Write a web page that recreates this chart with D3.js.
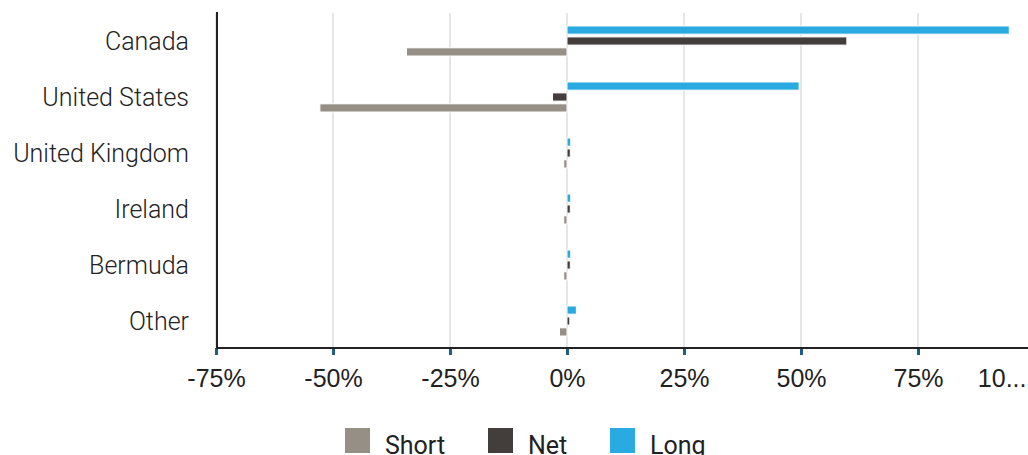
<!DOCTYPE html>
<html>
<head>
<meta charset="utf-8">
<script src="https://cdn.jsdelivr.net/npm/d3@7"></script>
<style>
  body { margin: 0; background: #fff; }
  svg { display: block; font-family: Roboto, "DejaVu Sans", sans-serif; }
</style>
</head>
<body>
<div id="chart"></div>
<script>
/* Data */
var countries = ["Canada", "United States", "United Kingdom", "Ireland", "Bermuda", "Other"];
var seriesNames = ["Long", "Net", "Short"];
var longVals  = [94.5, 49.6, 0.8, 0.8, 0.8, 2.0];
var netVals   = [59.8, -3.1, 0.7, 0.7, 0.7, 0.6];
var shortVals = [-34.3, -52.8, -0.7, -0.7, -0.7, -1.6];
var tickVals = [-75, -50, -25, 0, 25, 50, 75, 100];
var legendNames = ["Short", "Net", "Long"];

var colors = {Long: "#29abe2", Net: "#433e3b", Short: "#968f85"};

var width = 1028, height = 455;

var svg = d3.select("#chart").append("svg")
    .attr("width", width)
    .attr("height", height);

// scales
var x = d3.scaleLinear().domain([-75, 100]).range([216, 1035]);
var y = d3.scaleBand().domain(countries).range([13, 349])
    .paddingInner(0.464).paddingOuter(0.232);
var y1 = d3.scaleBand().domain(seriesNames).range([0, y.bandwidth()])
    .paddingInner(0.25);

// title, cut off at the top of the frame
svg.append("text")
    .attr("x", 11).attr("y", -5.5)
    .style("font-size", "25px")
    .style("fill", "#222")
    .text("Geography");

// gridlines
svg.append("g").selectAll("line")
    .data(tickVals)
    .enter().append("line")
    .attr("x1", function(d){ return x(d); })
    .attr("x2", function(d){ return x(d); })
    .attr("y1", 13)
    .attr("y2", 347)
    .attr("stroke", "#e6e6e6")
    .attr("stroke-width", 2);

// bars, one row per country / series
var rows = [];
countries.forEach(function(c, i){
    rows.push({country: c, series: "Long", value: longVals[i]});
    rows.push({country: c, series: "Net", value: netVals[i]});
    rows.push({country: c, series: "Short", value: shortVals[i]});
});

svg.append("g").selectAll("rect")
    .data(rows)
    .enter().append("rect")
    .attr("x", function(d){ return Math.min(x(0), x(d.value)); })
    .attr("y", function(d){ return y(d.country) + y1(d.series); })
    .attr("width", function(d){ return Math.abs(x(d.value) - x(0)); })
    .attr("height", y1.bandwidth())
    .attr("fill", function(d){ return colors[d.series]; })
    .attr("stroke", "#fff")
    .attr("stroke-width", 1);

// category labels
svg.append("g").selectAll("text")
    .data(countries)
    .enter().append("text")
    .attr("x", 189)
    .attr("y", function(d){ return y(d) + y.bandwidth() / 2 + 9; })
    .attr("text-anchor", "end")
    .style("font-size", "25px")
    .style("font-weight", 300)
    .style("fill", "#222")
    .text(function(d){ return d; });

// y axis line
svg.append("line")
    .attr("x1", 217).attr("x2", 217)
    .attr("y1", 12).attr("y2", 349)
    .attr("stroke", "#222").attr("stroke-width", 2);

// x axis
var xAxis = d3.axisBottom(x)
    .tickValues(tickVals)
    .tickSize(7)
    .tickPadding(14)
    .tickFormat(function(d){ return d + "%"; });

var gx = svg.append("g")
    .attr("transform", "translate(0,348)")
    .call(xAxis);
gx.select(".domain").remove();
gx.selectAll(".tick line")
    .attr("stroke", "#1d5f82")
    .attr("stroke-width", 3);
gx.selectAll(".tick text")
    .style("font-size", "25px")
    .style("font-weight", 300)
    .style("fill", "#222")
    .attr("font-family", null);
// last label is clipped by the frame, shown with an ellipsis
gx.selectAll(".tick text").filter(function(d){ return d === 100; })
    .text("10...")
    .attr("text-anchor", "end")
    .attr("x", 1026 - x(100));

svg.append("line")
    .attr("x1", 216).attr("x2", width)
    .attr("y1", 348).attr("y2", 348)
    .attr("stroke", "#222").attr("stroke-width", 2);

// legend
var legendX = [345, 488, 610];
var legend = svg.append("g").selectAll("g")
    .data(legendNames)
    .enter().append("g")
    .attr("transform", function(d, i){ return "translate(" + legendX[i] + ",428)"; });
legend.append("rect")
    .attr("width", 25).attr("height", 25)
    .attr("fill", function(d){ return colors[d]; });
legend.append("text")
    .attr("x", 40).attr("y", 26)
    .style("font-size", "25px")
    .style("fill", "#222")
    .text(function(d){ return d; });
</script>
</body>
</html>
